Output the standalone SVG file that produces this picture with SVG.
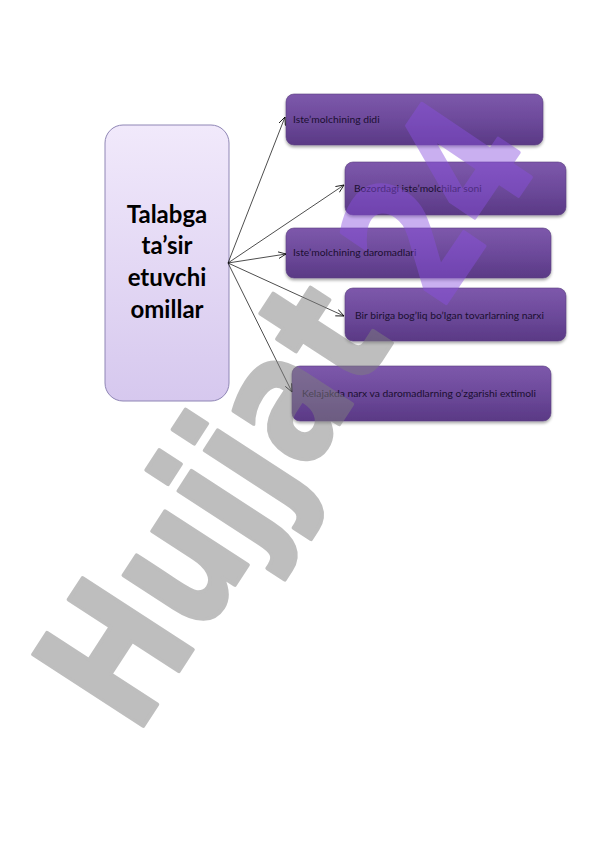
<svg xmlns="http://www.w3.org/2000/svg" width="596" height="842" viewBox="0 0 596 842">
<defs>
<linearGradient id="gc" x1="0" y1="0" x2="0" y2="1">
<stop offset="0" stop-color="#f1e9fb"/>
<stop offset="1" stop-color="#d6c8ee"/>
</linearGradient>
<linearGradient id="gp" x1="0" y1="0" x2="0" y2="1">
<stop offset="0" stop-color="#7d58ab"/>
<stop offset="0.5" stop-color="#6d4a9b"/>
<stop offset="1" stop-color="#5a3985"/>
</linearGradient>
<filter id="sh" x="-10%" y="-20%" width="120%" height="150%">
<feGaussianBlur in="SourceAlpha" stdDeviation="1.5"/>
<feOffset dx="0" dy="2" result="b"/>
<feComponentTransfer><feFuncA type="linear" slope="0.35"/></feComponentTransfer>
<feMerge><feMergeNode/><feMergeNode in="SourceGraphic"/></feMerge>
</filter>
<marker id="arr" markerWidth="10" markerHeight="10" refX="8" refY="4" orient="auto" markerUnits="userSpaceOnUse">
<polyline points="0,0.5 8,4 0,7.5" fill="none" stroke="#000" stroke-width="0.8"/>
</marker>
</defs>
<style>
.box{fill:url(#gp);stroke:#5a3f80;stroke-width:0.6;filter:url(#sh)}
.lbl{font-family:Lato,"Open Sans","Liberation Sans",sans-serif;font-size:10.3px;fill:#1b0f30}
.main{font-family:Lato,"Open Sans","Liberation Sans",sans-serif;font-size:24px;font-weight:bold;fill:#000;text-anchor:middle}
.conn{stroke:#000;stroke-width:0.7;fill:none;marker-end:url(#arr)}
.wm{font-family:"DejaVu Sans",sans-serif;font-weight:bold;font-size:180px;stroke-width:4;stroke-linejoin:round}
</style>
<rect width="596" height="842" fill="#fff"/>
<g id="center">
<rect x="105" y="125" width="124" height="276" rx="18" fill="url(#gc)" stroke="#8f86b5" stroke-width="1"/>
<text class="main" x="167" y="223">Talabga</text>
<text class="main" x="167" y="254">ta’sir</text>
<text class="main" x="167" y="286">etuvchi</text>
<text class="main" x="167" y="318">omillar</text>
</g>
<g id="n1"><rect class="box" x="286" y="94" width="257" height="51" rx="8"/><text class="lbl" x="293" y="123">Iste’molchining didi</text></g>
<g id="n2"><rect class="box" x="345" y="162" width="221" height="53" rx="8"/><text class="lbl" x="354" y="192">Bozordagi iste’molchilar soni</text></g>
<g id="n3"><rect class="box" x="286" y="228" width="265" height="50" rx="8"/><text class="lbl" x="293" y="256">Iste’molchining daromadlari</text></g>
<g id="n4"><rect class="box" x="345" y="288" width="221" height="53" rx="8"/><text class="lbl" x="355" y="319">Bir biriga bog’liq bo’lgan tovarlarning narxi</text></g>
<g id="n5"><rect class="box" x="292" y="366" width="259" height="55" rx="8"/><text class="lbl" x="302" y="397">Kelajakda narx va daromadlarning o’zgarishi extimoli</text></g>
<g id="connectors">
<line class="conn" x1="228" y1="263" x2="285" y2="117"/>
<line class="conn" x1="228" y1="263" x2="344" y2="185"/>
<line class="conn" x1="228" y1="263" x2="286" y2="254"/>
<line class="conn" x1="228" y1="263" x2="344" y2="316"/>
<line class="conn" x1="228" y1="263" x2="292" y2="392"/>
</g>
<g id="watermark">
<g opacity="0.5"><text class="wm" transform="translate(136,737) rotate(-57) scale(0.78,1)" fill="#7f7f7f" stroke="#7f7f7f">Hujjat</text></g>
<g opacity="0.45"><text class="wm" transform="translate(440,312) rotate(-56) scale(0.73,1)" fill="#8a50e0" stroke="#8a50e0">24</text></g>
</g>
</svg>
